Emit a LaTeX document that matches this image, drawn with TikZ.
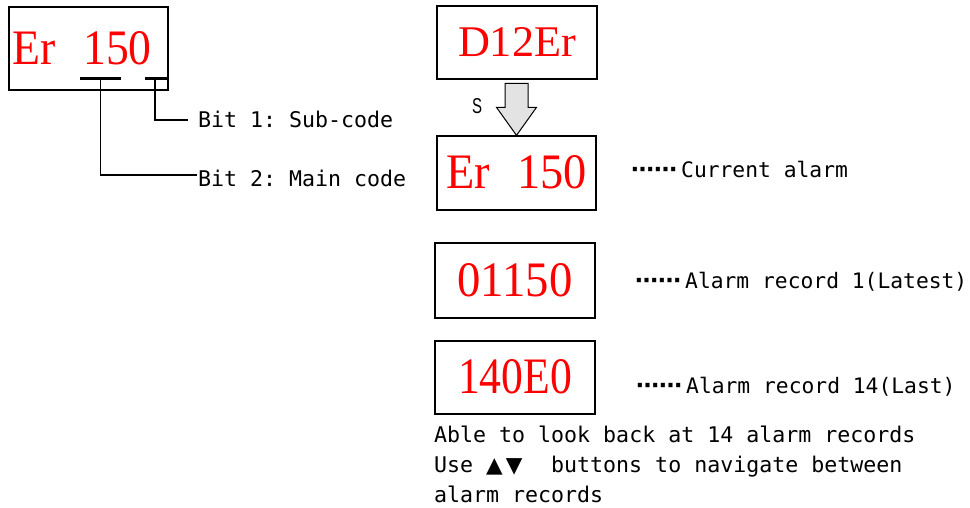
\documentclass[tikz,border=0pt]{standalone}
\usepackage{fontspec}
\setmainfont{Liberation Serif}
\setmonofont{DejaVu Sans Mono}
\newfontfamily\symfont{DejaVu Sans}
\newfontfamily\arialfont{Liberation Sans}
\newcommand\seg[3]{\resizebox{#1}{#2}{\fontsize{50}{50}\selectfont #3}}
\newcommand\sixdots{\makebox[50pt][l]{\symfont\bfseries\fontsize{23}{23}\selectfont ⋯⋯}}
\tikzset{
  disp/.style={draw, line width=1.3pt, inner sep=0pt, text=red},
  lbl/.style={font=\ttfamily\fontsize{21.6}{21.6}\selectfont, inner sep=0pt, anchor=base west},
  rlbl/.style={lbl, font=\ttfamily\fontsize{21.3}{21.3}\selectfont},
  conn/.style={line width=1.3pt},
  uline/.style={line width=2.2pt},
  blockarrow/.style={draw, line width=1pt, fill=gray!22, line join=miter},
}
\begin{document}
\begin{tikzpicture}[x=1pt,y=-1pt]
\useasboundingbox (0,0) rectangle (970,508);
% left display
\node[disp, minimum width=159pt, minimum height=83pt] (boxA) at (88.5,48.5) {\seg{139pt}{33pt}{Er\hspace{0.6em}150}\hspace*{12.6pt}};
\coordinate (u2) at (100.7,78.5);
\coordinate (u1) at (155,78.5);
\draw[uline] (80,78.5) -- (121,78.5);
\draw[uline] (145,78.5) -- (boxA.east |- u1);
\node[lbl] (bit1) at (198,128) {Bit 1: Sub-code};
\node[lbl] (bit2) at (198,187) {Bit 2: Main code};
\draw[conn] (u1) |- ([xshift=-10pt]bit1.west);
\draw[conn] (u2) |- ([xshift=-1pt,yshift=4pt]bit2.west);
% right displays
\node[disp, minimum width=160pt, minimum height=73pt] (d12) at (517,42.5) {\seg{118pt}{29pt}{D12Er}};
\node[disp, minimum width=159pt, minimum height=74pt] (er) at (516.5,173) {\raisebox{2.5pt}{\seg{141pt}{33pt}{Er\hspace{0.6em}150}}};
\node[disp, minimum width=160pt, minimum height=75pt] (r1) at (515,280.5) {\seg{115pt}{33pt}{01150}};
\node[disp, minimum width=160pt, minimum height=73pt] (r14) at (515,377.5) {\raisebox{1.5pt}{\seg{114pt}{34pt}{140E0}}};
% block arrow
\draw[blockarrow] ([shift={(-11.5,-52)}]er.north) -- ([shift={(11.5,-52)}]er.north)
  -- ([shift={(11.5,-28)}]er.north) -- ([shift={(20,-28)}]er.north)
  -- (er.north) -- ([shift={(-20,-28)}]er.north)
  -- ([shift={(-11.5,-28)}]er.north) -- cycle;
\node[inner sep=0pt] (s) at (477,106) {\resizebox{10pt}{15pt}{\arialfont\fontsize{20}{20}\selectfont S}};
% right labels
\node[rlbl] (cur) at (631,178) {\sixdots Current alarm};
\node[rlbl] (lab1) at (635,288) {\sixdots Alarm record 1(Latest)};
\node[rlbl] (lab14) at (636,393) {\sixdots Alarm record 14(Last)};
% bottom notes
\node[lbl] (n1) at (434,442) {Able to look back at 14 alarm records};
\node[lbl] (n2) at (434,472) {Use \makebox[52pt][l]{\symfont\fontsize{21.6}{21.6}\selectfont ▲\hspace{3pt}▼}~buttons to navigate between};
\node[lbl] (n3) at (434,502) {alarm records};
\end{tikzpicture}
\end{document}
